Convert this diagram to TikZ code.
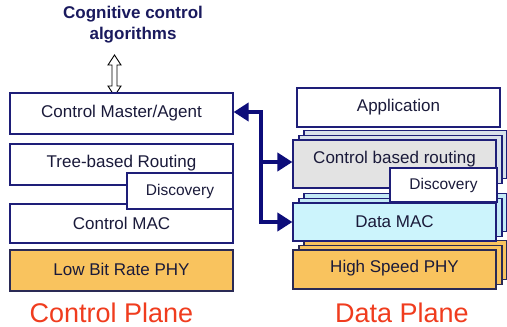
\documentclass[tikz,border=0pt]{standalone}
\usepackage{fontspec}
\setmainfont{Liberation Sans}
\usetikzlibrary{arrows.meta}
\definecolor{navy}{HTML}{1E1E78}
\definecolor{txt}{HTML}{1A1A3A}
\definecolor{orng}{HTML}{F9C35E}
\definecolor{orngb}{HTML}{2A2A55}
\definecolor{grayf}{HTML}{E3E3E3}
\definecolor{grayb}{HTML}{D9E1EA}
\definecolor{cyanf}{HTML}{CCF4FC}
\definecolor{cyanb}{HTML}{C4EAF6}
\definecolor{redt}{HTML}{F03C1E}
\definecolor{conn}{HTML}{0D0D7A}
\definecolor{titlec}{HTML}{1A1A5E}
\newcommand{\liftup}[2]{\raisebox{#1}[\height][\depth]{#2}}
\tikzset{
  box/.style={draw=navy, line width=1.2pt, fill=white, inner sep=0pt, text=txt,
    font=\fontsize{17}{20}\selectfont},
  obox/.style={box, fill=orng, draw=orngb},
  disc/.style={box, font=\fontsize{15.5}{18}\selectfont},
  conline/.style={draw=conn, line width=4.5pt, line join=miter},
  tip/.tip={Triangle[length=15pt,width=18pt]},
  plane/.style={text=redt, font=\fontsize{27}{30}\selectfont},
  ttl/.style={text=titlec, align=center, font=\fontsize{17}{21}\selectfont\bfseries},
  hollow/.style={draw=black, fill=white, line width=0.9pt, line join=miter},
}
\begin{document}
\begin{tikzpicture}[x=1pt,y=-1pt]
\fill[white] (0,0) rectangle (507,327);
\useasboundingbox (0,0) rectangle (507,327);

% title and double arrow
\node[ttl] (title) at (133,25) {Cognitive control\\algorithms};
\draw[hollow] (114.5,55) -- (121,65) -- (117,65) -- (117,86) -- (121,86) -- (114.5,96)
  -- (108,86) -- (112,86) -- (112,65) -- (108,65) -- cycle;

% control plane
\node[box, minimum width=223pt, minimum height=41pt] (master) at (121.5,113.5) {Control Master/Agent};
\node[box, minimum width=223pt, minimum height=41pt] (tree) at (121.5,164.5) {\liftup{1.5pt}{Tree-based Routing}};
\node[box, minimum width=223pt, minimum height=39pt] (cmac) at (121.5,223.5) {Control MAC};
\node[disc, minimum width=106pt, minimum height=36pt] (ldisc) at (180,191) {Discovery};
\node[obox, minimum width=223pt, minimum height=41pt] (lphy) at (121.5,270.5) {\liftup{1.5pt}{Low Bit Rate PHY}};

% data plane
\node[box, minimum width=203pt, minimum height=39pt] (app) at (398.5,107.5) {Application};

\node[box, fill=grayb, minimum width=203pt, minimum height=48pt] (rback2) at (405.5,154.5) {};
\node[box, fill=grayb, minimum width=203pt, minimum height=48pt] (rback1) at (400.5,159.5) {};
\node[box, fill=grayf, minimum width=203pt, minimum height=48pt] (routing) at (394.5,164) {\liftup{5pt}{Control based routing}};

\node[box, fill=cyanb, minimum width=203pt, minimum height=38pt] (mback2) at (405.5,212.5) {};
\node[box, fill=cyanb, minimum width=203pt, minimum height=38pt] (mback1) at (400.5,217.5) {};
\node[disc, minimum width=107pt, minimum height=34pt] (rdisc) at (443.5,185) {Discovery};

\node[obox, minimum width=203pt, minimum height=39pt] (pback2) at (405.5,260) {};
\node[obox, minimum width=203pt, minimum height=39pt] (pback1) at (400.5,265) {};
\node[box, fill=cyanf, minimum width=203pt, minimum height=38pt] (dmac) at (394.5,222) {Data MAC};
\node[obox, minimum width=203pt, minimum height=39pt] (hphy) at (394.5,269.5) {\liftup{1.5pt}{High Speed PHY}};

% labels
\node[plane] (cplane) at (111.5,313) {Control Plane};
\node[plane] (dplane) at (402,313) {Data Plane};

% connectors
\coordinate (jt) at (261,112);
\coordinate (jm) at (261,162);
\coordinate (jb) at (261,222);
\draw[conline, tip-tip] (jt -| master.east) -- (jt) -- (jb) -- (jb -| dmac.west);
\draw[conline, -tip] (jm) -- (jm -| routing.west);
\end{tikzpicture}
\end{document}
